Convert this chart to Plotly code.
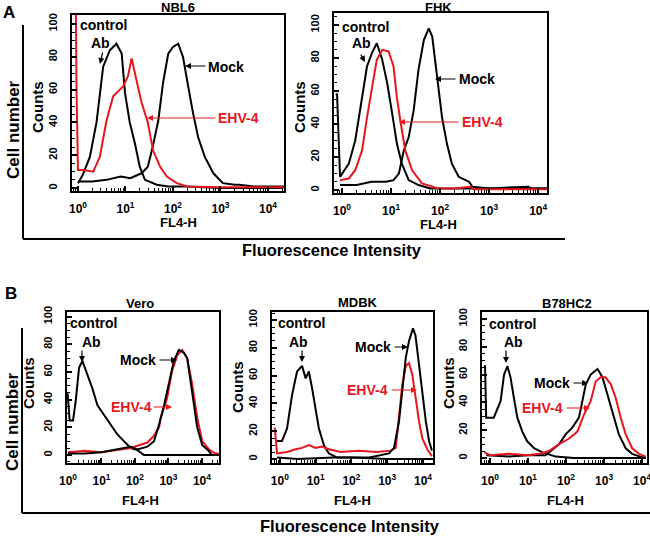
import plotly.graph_objects as go

# ---------------- data (x = log10 FL4-H intensity, y = counts) ----------------
nbl6_ab_x = [0.0, 0.1, 0.25, 0.39, 0.53, 0.67, 0.81, 0.92, 0.99, 1.09, 1.2, 1.3, 1.41, 1.66, 1.9, 2.3, 3.0, 4.3]
nbl6_ab_y = [3, 8, 19, 40, 74, 84, 88, 82, 58, 40, 27, 13, 5, 2, 1, 1, 0, 0]
nbl6_ehv_x = [-0.07, -0.045, -0.03, 0.0, 0.1, 0.32, 0.46, 0.6, 0.74, 0.95, 1.05, 1.13, 1.23, 1.34, 1.47, 1.58, 1.73, 1.87, 2.08, 2.3, 3.0, 4.34]
nbl6_ehv_y = [110, 110, 58, 11, 11, 10, 19, 41, 56, 62, 68, 79, 66, 52, 40, 23, 13, 7, 3, 1, 0.5, 0.5]
nbl6_mock_x = [0.0, 0.3, 0.6, 0.9, 1.1, 1.34, 1.47, 1.58, 1.69, 1.79, 1.9, 2.0, 2.11, 2.21, 2.32, 2.42, 2.53, 2.67, 2.85, 3.05, 3.3, 3.4, 3.7, 4.34]
nbl6_mock_y = [4, 4, 5, 7, 6, 9, 13, 26, 41, 64, 82, 86, 88, 80, 62, 46, 31, 19, 9, 3, 2, 2, 1, 1]

fhk_ab_x = [-0.13, -0.1, -0.04, 0.14, 0.27, 0.41, 0.51, 0.61, 0.71, 0.82, 0.92, 1.02, 1.12, 1.22, 1.36, 1.56, 1.8, 2.5, 4.2]
fhk_ab_y = [58, 58, 8, 16, 30, 55, 75, 83, 89, 79, 65, 47, 28, 16, 6, 3, 1, 1, 1]
fhk_ehv_x = [-0.04, 0.14, 0.27, 0.41, 0.51, 0.61, 0.71, 0.82, 0.95, 1.05, 1.12, 1.19, 1.29, 1.43, 1.63, 1.96, 2.3, 2.6, 2.7, 4.2]
fhk_ehv_y = [6, 7, 12, 24, 44, 62, 79, 85, 84, 75, 56, 42, 24, 12, 4, 1, 1, 2, 0.5, 0.5]
fhk_mock_x = [-0.04, 0.3, 0.6, 0.9, 1.05, 1.16, 1.26, 1.36, 1.46, 1.56, 1.67, 1.77, 1.84, 1.94, 2.04, 2.14, 2.24, 2.38, 2.59, 2.66, 3.0, 3.8, 3.85, 4.2]
fhk_mock_y = [3, 3, 5, 5, 6, 10, 24, 32, 48, 73, 91, 98, 93, 69, 44, 28, 16, 8, 5, 2, 1, 2, 1, 1]

vero_ab_x = [-0.03, -0.01, 0.05, 0.15, 0.23, 0.33, 0.43, 0.58, 0.73, 0.88, 1.07, 1.27, 1.47, 1.67, 1.87, 2.07, 2.27, 3.0, 4.5]
vero_ab_y = [44, 44, 25, 25, 39, 63, 68, 58, 48, 36, 29, 22, 15, 10, 5, 3.5, 0, 0, 0]
vero_mock_x = [0.0, 0.5, 1.0, 1.47, 1.87, 2.07, 2.37, 2.57, 2.72, 2.87, 3.01, 3.16, 3.31, 3.46, 3.56, 3.66, 3.76, 3.86, 4.01, 4.16, 4.3, 4.5]
vero_mock_y = [1, 1, 2, 4, 6, 4, 6, 10, 22, 36, 51, 68, 76, 74, 70, 53, 34, 20, 7, 4, 0, 0]
vero_ehv_x = [0.0, 0.5, 1.0, 1.3, 1.87, 2.37, 2.57, 2.72, 2.77, 2.96, 3.11, 3.26, 3.41, 3.56, 3.71, 3.86, 4.01, 4.21, 4.4, 4.5]
vero_ehv_y = [2, 3, 2, 3, 5, 9, 14, 20, 27, 41, 61, 72, 76, 70, 51, 27, 10, 4, 1, 1]

mdbk_ab_x = [-0.08, 0.06, 0.2, 0.34, 0.48, 0.62, 0.72, 0.81, 0.9, 1.0, 1.09, 1.23, 1.37, 1.6, 2.0, 3.0, 4.28]
mdbk_ab_y = [13, 13, 22, 46, 63, 67, 58, 63, 51, 37, 22, 10, 4, 1, 1, 0, 0]
mdbk_mock_x = [-0.08, 0.5, 1.5, 2.5, 3.05, 3.19, 3.33, 3.42, 3.52, 3.61, 3.72, 3.79, 3.89, 3.98, 4.08, 4.17, 4.25]
mdbk_mock_y = [1, 0, 1, 1, 4, 8, 27, 51, 73, 85, 94, 89, 68, 46, 27, 13, 6]
mdbk_ehv_x = [-0.17, -0.14, -0.08, 0.2, 0.44, 0.62, 0.81, 1.0, 1.17, 1.37, 1.7, 2.2, 2.7, 3.1, 3.24, 3.33, 3.42, 3.52, 3.61, 3.7, 3.79, 3.89, 3.98, 4.12, 4.25]
mdbk_ehv_y = [22, 22, 4, 5, 7, 8, 10, 8, 9, 7, 5, 6, 5, 6, 8, 30, 53, 67, 69, 61, 44, 27, 15, 7, 2]

b78_ab_x = [-0.16, -0.13, -0.1, 0.1, 0.28, 0.37, 0.46, 0.54, 0.63, 0.72, 0.85, 0.98, 1.16, 1.38, 1.73, 2.2, 3.0, 4.1]
b78_ab_y = [66, 66, 29, 29, 41, 60, 66, 58, 43, 29, 19, 12, 7, 4, 1, 0, 0, 0]
b78_mock_x = [-0.1, 0.5, 1.0, 1.46, 1.64, 1.82, 1.99, 2.17, 2.34, 2.43, 2.52, 2.65, 2.83, 2.96, 3.09, 3.22, 3.39, 3.57, 3.74, 3.95, 4.1]
b78_mock_y = [2, 1, 2, 2, 6, 10, 17, 22, 29, 41, 53, 60, 64, 58, 46, 34, 17, 7, 3, 1, 0]
b78_ehv_x = [-0.15, 0.0, 0.5, 1.0, 1.3, 1.55, 1.82, 2.08, 2.3, 2.47, 2.65, 2.78, 2.91, 3.04, 3.18, 3.31, 3.44, 3.57, 3.74, 3.92, 4.1]
b78_ehv_y = [4, 2, 3, 2, 3, 5, 10, 14, 19, 31, 41, 55, 58, 58, 53, 43, 29, 17, 7, 3, 1]

panel_titles = ["NBL6", "FHK", "Vero", "MDBK", "B78HC2"]
x_tickvals = [1, 10, 100, 1000, 10000]
x_ticktext = ["<b>10<sup>0</sup></b>", "<b>10<sup>1</sup></b>", "<b>10<sup>2</sup></b>",
              "<b>10<sup>3</sup></b>", "<b>10<sup>4</sup></b>"]
y_tickvals = [0, 20, 40, 60, 80, 100]
y_ticktext = ["<b>0</b>", "<b>20</b>", "<b>40</b>", "<b>60</b>", "<b>80</b>", "<b>100</b>"]

# ---------------- layout helpers ----------------
W, H = 650, 536
def PX(x): return x / W
def PY(y): return 1 - y / H

BLACK = "#000000"
RED = "#e8161e"
FONT = "Liberation Sans, Arial, sans-serif"

# panel boxes in pixels: (left, right, top, bottom), x log range, y range
panels = [
    dict(box=(72, 284, 15, 191), xr=[-0.126, 4.337], yr=[-1.8, 105.5],
         series=[(nbl6_mock_x, nbl6_mock_y, BLACK), (nbl6_ab_x, nbl6_ab_y, BLACK), (nbl6_ehv_x, nbl6_ehv_y, RED)]),
    dict(box=(334, 547, 13, 193), xr=[-0.163, 4.18], yr=[-1.8, 107.3],
         series=[(fhk_mock_x, fhk_mock_y, BLACK), (fhk_ab_x, fhk_ab_y, BLACK), (fhk_ehv_x, fhk_ehv_y, RED)]),
    dict(box=(67, 219, 312, 463), xr=[-0.03, 4.51], yr=[-5.8, 103.4],
         series=[(vero_ab_x, vero_ab_y, BLACK), (vero_ehv_x, vero_ehv_y, RED), (vero_mock_x, vero_mock_y, BLACK)]),
    dict(box=(272, 433, 312, 463), xr=[-0.22, 4.28], yr=[-2.9, 105.8],
         series=[(mdbk_ab_x, mdbk_ab_y, BLACK), (mdbk_ehv_x, mdbk_ehv_y, RED), (mdbk_mock_x, mdbk_mock_y, BLACK)]),
    dict(box=(482, 647, 312, 463), xr=[-0.21, 4.13], yr=[-3.6, 105.0],
         series=[(b78_ab_x, b78_ab_y, BLACK), (b78_mock_x, b78_mock_y, BLACK), (b78_ehv_x, b78_ehv_y, RED)]),
]

fig = go.Figure()
layout = dict(
    template="none",
    width=W, height=H, autosize=False, margin=dict(l=0, r=0, t=0, b=0, pad=0),
    paper_bgcolor="white", plot_bgcolor="white", showlegend=False,
    font=dict(family=FONT, color=BLACK, weight="bold"),
)

for i, p in enumerate(panels):
    n = "" if i == 0 else str(i + 1)
    l, r, t, b = p["box"]
    for xs, ys, col in p["series"]:
        fig.add_trace(go.Scatter(
            x=[10 ** v for v in xs], y=ys, mode="lines",
            line=dict(color=col, width=2), xaxis="x" + n, yaxis="y" + n,
            hoverinfo="skip"))
    layout["xaxis" + n] = dict(
        domain=[PX(l), PX(r)], anchor="y" + n, type="log", range=p["xr"], automargin=False,
        tickmode="array", tickvals=x_tickvals, ticktext=x_ticktext, ticklabeloverflow="allow",
        ticks="inside", ticklen=5, tickwidth=1.5, tickcolor=BLACK,
        minor=dict(ticks="inside", ticklen=3, tickwidth=1, tickcolor=BLACK, dtick="D1"),
        showline=True, linewidth=2, linecolor=BLACK, mirror=True,
        showgrid=False, zeroline=False, tickfont=dict(size=12, family=FONT, color=BLACK),
        ticklabelstandoff=6,
    )
    layout["yaxis" + n] = dict(
        domain=[PY(b), PY(t)], anchor="x" + n, range=p["yr"], automargin=False,
        tickmode="array", tickvals=y_tickvals, ticktext=y_ticktext, tickangle=-90,
        ticklabeloverflow="allow",
        ticks="inside", ticklen=5, tickwidth=1.5, tickcolor=BLACK,
        minor=dict(ticks="inside", ticklen=3, tickwidth=1, tickcolor=BLACK, dtick=5, tick0=0),
        showline=True, linewidth=2, linecolor=BLACK, mirror=True,
        showgrid=False, zeroline=False, tickfont=dict(size=11, family=FONT, color=BLACK),
        ticklabelstandoff=9,
    )

anns = []
def text(x, y, s, size=13, color=BLACK, angle=0):
    anns.append(dict(x=PX(x), y=PY(y), xref="paper", yref="paper", text="<b>" + s + "</b>", showarrow=False,
                     xanchor="center", yanchor="middle", textangle=angle,
                     font=dict(size=size, color=color, family=FONT)))

def arrow(tx, ty, hx, hy, color=BLACK):
    anns.append(dict(x=PX(hx), y=PY(hy), xref="paper", yref="paper", text="",
                     showarrow=True, ax=tx - hx, ay=ty - hy, arrowhead=2, arrowsize=1,
                     arrowwidth=1.2, arrowcolor=color, standoff=0, startstandoff=0))

# panel titles, axis labels
title_pos = [(178, 7), (438, 7), (140, 303), (358, 302), (567, 303)]
for (x, y), s in zip(title_pos, panel_titles):
    text(x, y, s, size=13)
for x, y in [(178, 222), (438, 224), (140, 500), (352, 500), (565, 500)]:
    text(x, y, "FL4-H", size=13)
for x, y in [(37, 107), (299, 107), (28, 383), (237, 387), (448, 383)]:
    text(x, y, "Counts", size=15, angle=-90)

# curve labels: control, Ab, Mock, EHV-4 text centres; arrows (tail, head)
labels = [
    dict(c=(103, 25), ab=(101, 43), m=(226, 67), e=(238, 118),
         aab=((103, 51), (100, 64)), am=((207, 66), (185, 66)), ae=((217, 118), (147, 118))),
    dict(c=(365, 27), ab=(361, 43), m=(477, 79), e=(482, 122),
         aab=((360, 53), (365, 62)), am=((457, 79), (435, 79)), ae=((460, 122), (399, 122))),
    dict(c=(93, 323), ab=(91, 342), m=(138, 360), e=(131, 407),
         aab=((82, 349), (82, 362)), am=((158, 360), (177, 360)), ae=((152, 407), (172, 407))),
    dict(c=(301, 323), ab=(298, 342), m=(373, 347), e=(367, 390),
         aab=((302, 349), (302, 362)), am=((393, 347), (408, 347)), ae=((390, 390), (417, 390))),
    dict(c=(512, 324), ab=(513, 342), m=(552, 383), e=(542, 408),
         aab=((506, 349), (506, 363)), am=((572, 383), (588, 383)), ae=((565, 408), (590, 408))),
]
for L in labels:
    text(*L["c"], "control", size=14)
    text(*L["ab"], "Ab", size=14)
    text(*L["m"], "Mock", size=14)
    text(*L["e"], "EHV-4", size=14, color=RED)
    arrow(*L["aab"][0], *L["aab"][1])
    arrow(*L["am"][0], *L["am"][1])
    arrow(*L["ae"][0], *L["ae"][1], color=RED)

# big outer labels
text(9, 13, "A", size=17)
text(11, 293, "B", size=17)
text(13, 130, "Cell number", size=17, angle=-90)
text(12, 422, "Cell number", size=17, angle=-90)
text(332, 250, "Fluorescence Intensity", size=16.5)
text(350, 526, "Fluorescence Intensity", size=16.5)

layout["annotations"] = anns
layout["shapes"] = [
    dict(type="line", xref="paper", yref="paper", x0=PX(23), x1=PX(23), y0=PY(25), y1=PY(239), line=dict(color=BLACK, width=2)),
    dict(type="line", xref="paper", yref="paper", x0=PX(23), x1=PX(565), y0=PY(239), y1=PY(239), line=dict(color=BLACK, width=2)),
    dict(type="line", xref="paper", yref="paper", x0=PX(22), x1=PX(22), y0=PY(328), y1=PY(513), line=dict(color=BLACK, width=2)),
    dict(type="line", xref="paper", yref="paper", x0=PX(22), x1=PX(650), y0=PY(513), y1=PY(513), line=dict(color=BLACK, width=2)),
]

fig.update_layout(**layout)
fig.write_html("out.html", config={"displayModeBar": False},
               post_script="document.body.style.margin='0px';document.body.style.padding='0px';")
